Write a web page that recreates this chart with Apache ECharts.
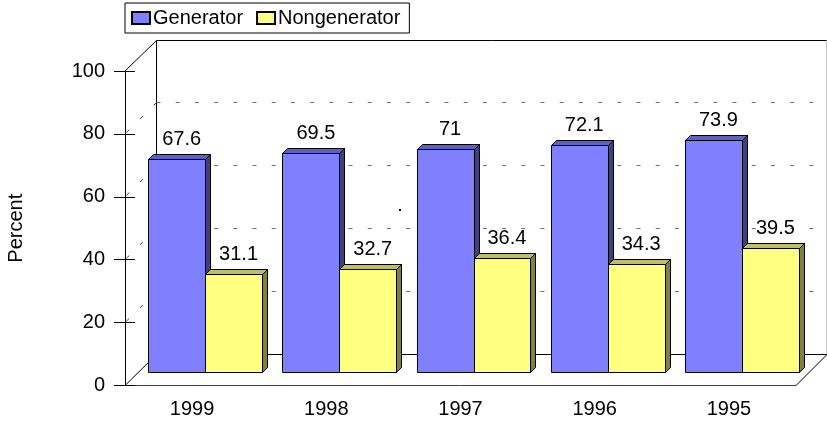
<!DOCTYPE html>
<html>
<head>
<meta charset="utf-8">
<style>
	html, body { margin: 0; padding: 0; background: #fff; }
	#box { width: 827px; height: 422px; }
</style>
<script src="https://cdn.jsdelivr.net/npm/echarts@6/dist/echarts.min.js"></script>
</head>
<body>
<div id="box"></div>
<script>
var categories = ["1999", "1998", "1997", "1996", "1995"];
var generator = [67.6, 69.5, 71, 72.1, 73.9];
var nongenerator = [31.1, 32.7, 36.4, 34.3, 39.5];
var wallTicks = [20, 40, 60, 80];

var fontFamily = "Liberation Sans";
var wallDepth = 32;
var wallRise = 31;
var barShift = 13.5;
var barRise = 13;
var barDepth = 5;
var barRatio = 0.424;

// keep 1px lines on the pixel grid
function snap(v) {
	return Math.floor(v) + 0.5;
}

function line(x1, y1, x2, y2, stroke, dash) {
	return {
		type: "line",
		shape: { x1: x1, y1: y1, x2: x2, y2: y2 },
		style: { stroke: stroke, lineWidth: 1, lineDash: dash || null, fill: null },
		silent: true
	};
}

function renderFrame(params) {
	var g = params.coordSys;
	var l = g.x, t = g.y, r = g.x + g.width, b = g.y + g.height;
	var backX = snap(l + wallDepth - 1);
	var topY = snap(t - wallRise);
	var floorY = snap(b - wallRise);
	return {
		type: "group",
		children: [
			line(l, t, backX, topY, "#000"),
			line(backX, topY, backX, floorY, "#000"),
			line(backX, topY, r + 31, topY, "#000"),
			line(r + 30.5, topY, r + 30.5, floorY, "#c8c8c8"),
			line(l, b, backX, floorY, "#000"),
			line(backX, floorY, r + 31, floorY, "#000"),
			line(r, b, r + 31, floorY, "#000")
		]
	};
}

function renderWallTick(params, api) {
	var g = params.coordSys;
	var y = api.coord([0, api.value(0)])[1];
	var backX = snap(g.x + wallDepth - 1);
	var backY = snap(y - wallRise);
	return {
		type: "group",
		children: [
			line(backX, backY, g.x + g.width + 31, backY, "#707070", [4, 15.2]),
			line(backX, backY, g.x, y, "#404040", [4, 15.2])
		]
	};
}

function makeBar(offset, front, side, top) {
	return function (params, api) {
		var base = api.coord([api.value(0), 0]);
		var head = api.coord([api.value(0), api.value(1)]);
		var w = api.size([1, 0])[0] * barRatio;
		var rawX = base[0] + barShift + offset * w;
		var x = snap(rawX);
		var x1 = snap(rawX + w);
		var y = snap(head[1] - barRise);
		var y0 = snap(base[1] - barRise);
		var edge = { stroke: "#000", lineWidth: 1 };
		return {
			type: "group",
			children: [
				{
					type: "polygon",
					shape: { points: [[x1, y], [x1 + barDepth, y - barDepth], [x1 + barDepth, y0 - barDepth], [x1, y0]] },
					style: Object.assign({ fill: side }, edge)
				},
				{
					type: "polygon",
					shape: { points: [[x, y], [x + barDepth, y - barDepth], [x1 + barDepth, y - barDepth], [x1, y]] },
					style: Object.assign({ fill: top }, edge)
				},
				{
					type: "rect",
					shape: { x: x, y: y, width: x1 - x, height: y0 - y },
					style: Object.assign({ fill: front }, edge)
				},
				{
					type: "text",
					style: {
						x: rawX + w / 2 + 4.5,
						y: y - 20,
						text: String(api.value(1)),
						align: "center",
						verticalAlign: "middle",
						fill: "#000",
						font: "20px '" + fontFamily + "'"
					}
				}
			]
		};
	};
}

function pairs(values) {
	return values.map(function (v, i) {
		return [i, v];
	});
}

var instance = echarts.init(document.getElementById("box"));
instance.setOption({
	animation: false,
	backgroundColor: "#fff",
	textStyle: { fontFamily: fontFamily, color: "#000" },
	grid: { left: 125, top: 71, width: 671, height: 314.5, outerBoundsMode: "none" },
	legend: {
		data: ["Generator", "Nongenerator"],
		left: 125,
		top: 3,
		padding: [5, 9, 5, 6],
		icon: "rect",
		itemWidth: 18,
		itemHeight: 12,
		itemGap: 13,
		borderColor: "#000",
		borderWidth: 1,
		textStyle: { fontSize: 20, fontFamily: fontFamily, color: "#000", padding: [0, 0, 0, -2] }
	},
	// the stray speck on the back wall of the source image
	graphic: [
		{ type: "rect", shape: { x: 399, y: 209, width: 2, height: 2 }, style: { fill: "#000" }, silent: true }
	],
	xAxis: {
		type: "category",
		data: categories,
		axisLine: { lineStyle: { color: "#404040", width: 1 } },
		axisTick: { show: false },
		axisLabel: { fontSize: 20, color: "#000", margin: 14 }
	},
	yAxis: [
		{
			type: "value",
			min: 0,
			max: 100,
			interval: 20,
			name: "Percent",
			nameLocation: "middle",
			nameGap: 99,
			nameTextStyle: { fontSize: 20, color: "#000" },
			axisLine: { show: true, lineStyle: { color: "#000", width: 1 } },
			axisTick: { show: true, length: 11, lineStyle: { color: "#000" } },
			axisLabel: { fontSize: 20, color: "#000", margin: 20 },
			splitLine: { show: false }
		},
		{
			type: "value",
			position: "left",
			min: 0,
			max: 100,
			interval: 20,
			axisLine: { show: false },
			axisTick: { show: true, inside: true, length: 10, lineStyle: { color: "#000" } },
			axisLabel: { show: false },
			splitLine: { show: false }
		}
	],
	series: [
		{
			type: "custom",
			name: "frame",
			data: [[0]],
			renderItem: renderFrame,
			silent: true
		},
		{
			type: "custom",
			name: "walls",
			data: wallTicks.map(function (v) { return [v]; }),
			encode: { y: 0 },
			renderItem: renderWallTick,
			silent: true
		},
		{
			type: "custom",
			name: "Generator",
			data: pairs(generator),
			encode: { x: 0, y: 1 },
			itemStyle: { color: "#8080ff", borderColor: "#000", borderWidth: 1 },
			renderItem: makeBar(-1, "#8080ff", "#404080", "#6060c0")
		},
		{
			type: "custom",
			name: "Nongenerator",
			data: pairs(nongenerator),
			encode: { x: 0, y: 1 },
			itemStyle: { color: "#ffff80", borderColor: "#000", borderWidth: 1 },
			renderItem: makeBar(0, "#ffff80", "#808040", "#c0c060")
		}
	]
});
</script>
</body>
</html>
